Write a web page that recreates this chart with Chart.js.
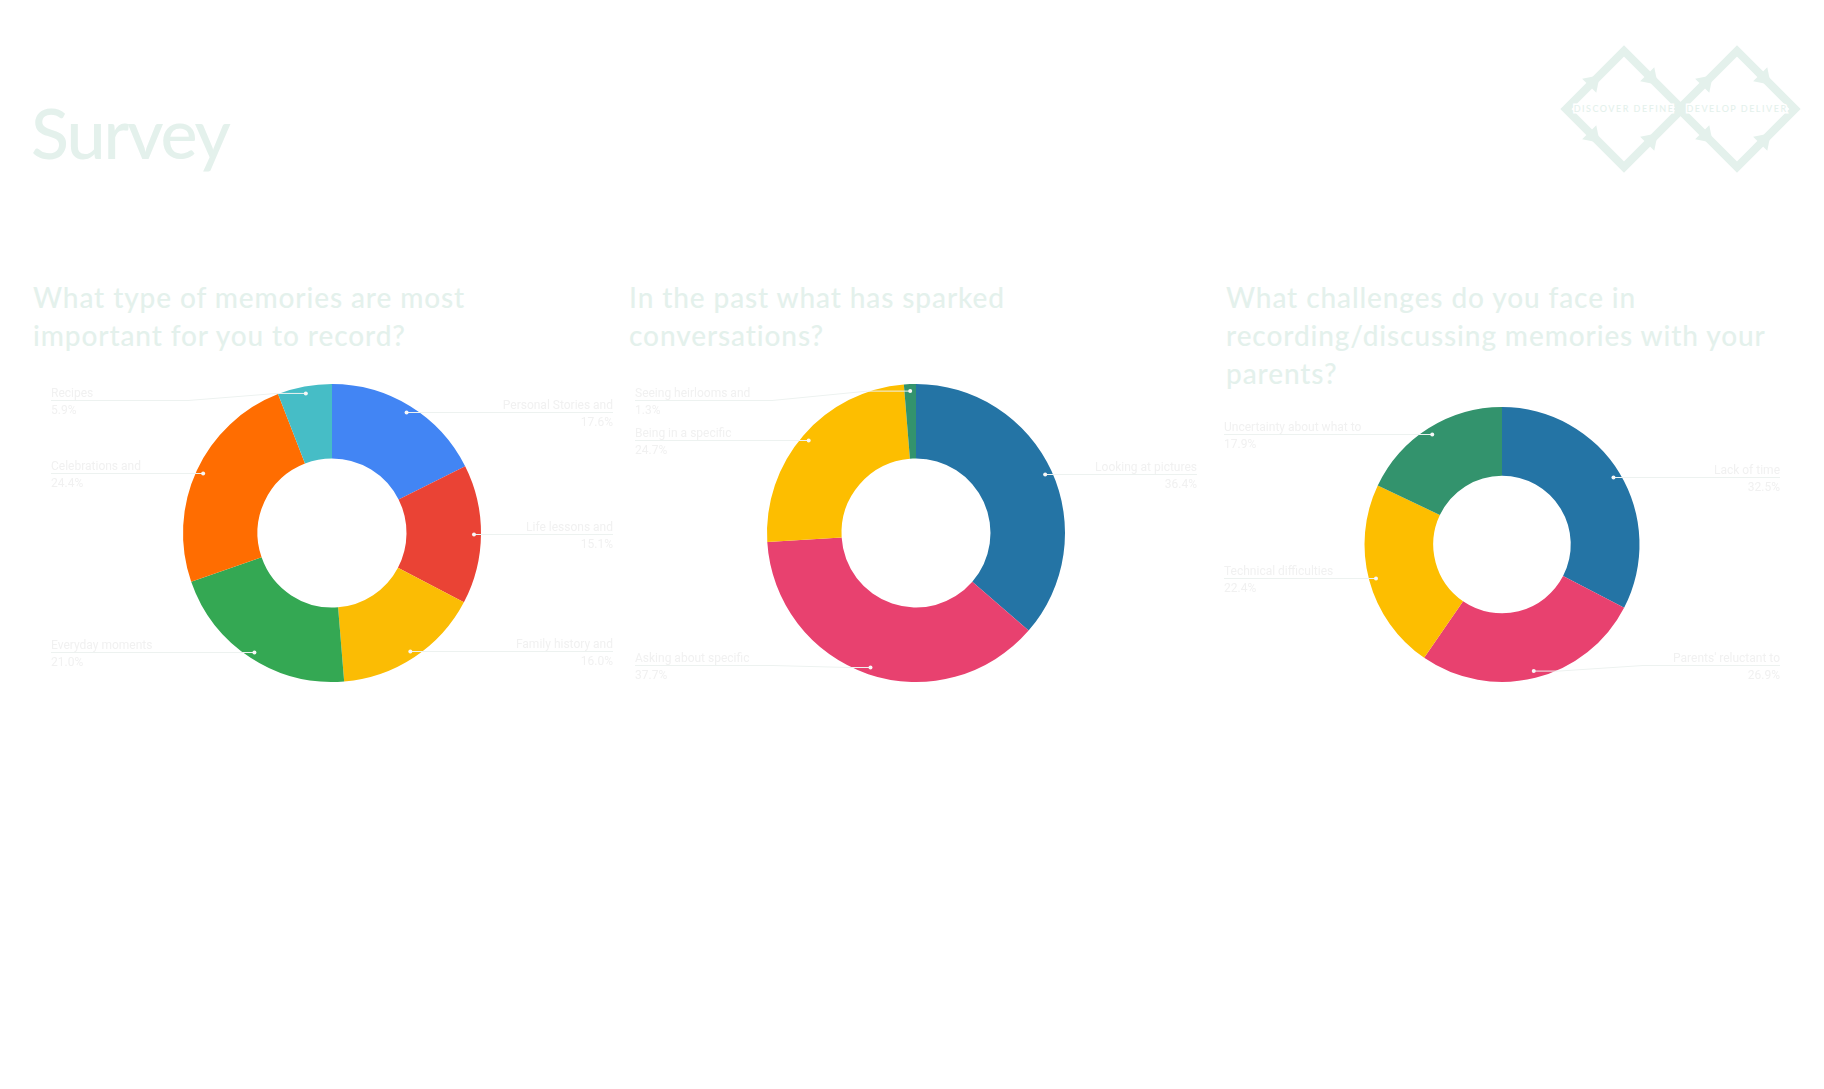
<!DOCTYPE html>
<html>
<head>
<meta charset="utf-8">
<title>Survey</title>
<script src="https://cdn.jsdelivr.net/npm/chart.js@4.4.1/dist/chart.umd.min.js"></script>
<style>
  html, body { margin: 0; padding: 0; background: #fff; }
  body { width: 1824px; height: 1089px; position: relative; overflow: hidden; font-family: Lato, "Open Sans", sans-serif; }
  h1 { position: absolute; left: 31px; top: 97px; margin: 0; font-size: 70px; line-height: 70px; font-weight: 500; letter-spacing: -2px; color: #e4f1ec; }
  .q { position: absolute; top: 278px; margin: 0; font-size: 28px; line-height: 38px; font-weight: 500; letter-spacing: 0.9px; color: #e4f1ec; white-space: nowrap; }
  canvas { position: absolute; }
  #logo { position: absolute; left: 1556px; top: 40px; }
</style>
</head>
<body>
<h1>Survey</h1>
<svg id="logo" width="260" height="140"></svg>

<p class="q" style="left:33px">What type of memories are most<br>important for you to record?</p>
<p class="q" style="left:629px">In the past what has sparked<br>conversations?</p>
<p class="q" style="left:1226px">What challenges do you face in<br>recording/discussing memories with your<br>parents?</p>

<canvas id="c1" width="582" height="318" style="left:41px;top:374px"></canvas>
<canvas id="c2" width="582" height="318" style="left:625px;top:374px"></canvas>
<canvas id="c3" width="576" height="295" style="left:1214px;top:397px"></canvas>

<script>
'use strict';

// chart 1: what type of memories
const memoryLabels = ['Personal Stories and', 'Life lessons and', 'Family history and', 'Everyday moments', 'Celebrations and', 'Recipes'];
const memoryValues = [17.6, 15.1, 16.0, 21.0, 24.4, 5.9];
const memoryColors = ['#4285f4', '#ea4335', '#fbbc04', '#34a853', '#ff6d01', '#46bdc6'];

// chart 2: what sparked conversations
const sparkLabels = ['Looking at pictures', 'Asking about specific', 'Being in a specific', 'Seeing heirlooms and'];
const sparkValues = [36.4, 37.7, 24.7, 1.3];

// chart 3: challenges
const challengeLabels = ['Lack of time', "Parents' reluctant to", 'Technical difficulties', 'Uncertainty about what to'];
const challengeValues = [32.5, 26.9, 22.4, 17.9];

const fourColors = ['#2474a5', '#e8416f', '#fdbe00', '#33936d'];

const textColor = '#f1f1f1';
const lineColor = '#edf2f0';

// google-sheets style side labels with leader lines
const sideLabels = {
    id: 'sideLabels',
    afterDatasetsDraw(chart) {
        const ctx = chart.ctx;
        const meta = chart.getDatasetMeta(0);
        const ds = chart.data.datasets[0];
        const left = 10;
        const right = chart.width - 10;
        ctx.save();
        meta.data.forEach(function(arc, i) {
            const p = arc.getProps(['x', 'y', 'startAngle', 'endAngle', 'outerRadius'], true);
            const mid = (p.startAngle + p.endAngle) / 2;
            const r = p.outerRadius - 7;
            const dotX = p.x + Math.cos(mid) * r;
            const dotY = p.y + Math.sin(mid) * r;
            const onRight = Math.cos(mid) >= 0;
            const top = p.y - p.outerRadius;
            const bottom = p.y + p.outerRadius;
            const ly = Math.round(Math.min(Math.max(dotY, top + 16), bottom - 17)) + 0.5;
            const edgeX = onRight ? right : left;
            const endX = onRight ? right - 137 : left + 137;
            const half = Math.sqrt(Math.max(p.outerRadius * p.outerRadius - (dotY - p.y) * (dotY - p.y), 0));
            const rimX = onRight ? p.x + half + 3 : p.x - half - 3;
            const straight = Math.abs(ly - dotY) < 1.5;

            ctx.strokeStyle = lineColor;
            ctx.lineWidth = 1;
            ctx.beginPath();
            ctx.moveTo(edgeX, ly);
            if (straight) {
                ctx.lineTo(dotX, ly);
            } else {
                ctx.lineTo(endX, ly);
                ctx.lineTo(rimX, dotY);
                ctx.lineTo(dotX, dotY);
            }
            ctx.stroke();

            ctx.fillStyle = '#f7f7f7';
            ctx.beginPath();
            ctx.arc(dotX, straight ? ly : dotY, 2, 0, Math.PI * 2);
            ctx.fill();

            ctx.fillStyle = textColor;
            ctx.font = '12px Roboto';
            ctx.textAlign = onRight ? 'right' : 'left';
            ctx.textBaseline = 'alphabetic';
            ctx.fillText(chart.data.labels[i], edgeX, ly - 4);
            ctx.fillText(ds.data[i].toFixed(1) + '%', edgeX, ly + 13);
        });
        ctx.restore();
    }
};

function makeDonut(id, labels, values, colors) {
    return new Chart(document.getElementById(id), {
        type: 'doughnut',
        data: {
            labels: labels,
            datasets: [{
                data: values,
                backgroundColor: colors,
                borderWidth: 0,
            }],
        },
        options: {
            responsive: false,
            animation: false,
            cutout: '50%',
            layout: { padding: { top: 10, bottom: 10 } },
            plugins: {
                legend: { display: false },
                tooltip: { enabled: false },
            },
        },
        plugins: [sideLabels],
    });
}

makeDonut('c1', memoryLabels, memoryValues, memoryColors);
makeDonut('c2', sparkLabels, sparkValues, fourColors);
makeDonut('c3', challengeLabels, challengeValues, fourColors);

// double diamond logo
const svg = document.getElementById('logo');
const NS = 'http://www.w3.org/2000/svg';
const mint = '#e4f1ec';
function el(name, attrs) {
    const e = document.createElementNS(NS, name);
    for (const k in attrs) e.setAttribute(k, attrs[k]);
    svg.appendChild(e);
    return e;
}
[68, 181].forEach(function(cx) {
    const cy = 69, h = 58;
    el('polygon', {
        points: [cx - h, cy, cx, cy - h, cx + h, cy, cx, cy + h].join(' '),
        fill: 'none', stroke: mint, 'stroke-width': 8, 'stroke-linejoin': 'miter'
    });
    const paths = [
        [cx - h, cy, cx, cy - h], [cx, cy - h, cx + h, cy],
        [cx - h, cy, cx, cy + h], [cx, cy + h, cx + h, cy]
    ];
    paths.forEach(function(s) {
        const t = 0.4;
        const px = s[0] + (s[2] - s[0]) * t, py = s[1] + (s[3] - s[1]) * t;
        const len = Math.hypot(s[2] - s[0], s[3] - s[1]);
        const ux = (s[2] - s[0]) / len, uy = (s[3] - s[1]) / len;
        const nx = -uy, ny = ux;
        const a = 15, w = 10;
        el('polygon', {
            points: [px + ux * a, py + uy * a, px + nx * w, py + ny * w, px - nx * w, py - ny * w].join(' '),
            fill: mint
        });
    });
});
[['DISCOVER DEFINE', 68], ['DEVELOP  DELIVER', 181]].forEach(function(d) {
    const t = el('text', {
        x: d[1], y: 72, 'text-anchor': 'middle', fill: mint,
        stroke: '#fff', 'stroke-width': 3, 'paint-order': 'stroke',
        'font-family': 'Lato, sans-serif', 'font-size': 9, 'font-weight': 500, 'letter-spacing': 1.5
    });
    t.textContent = d[0];
});
</script>
</body>
</html>
